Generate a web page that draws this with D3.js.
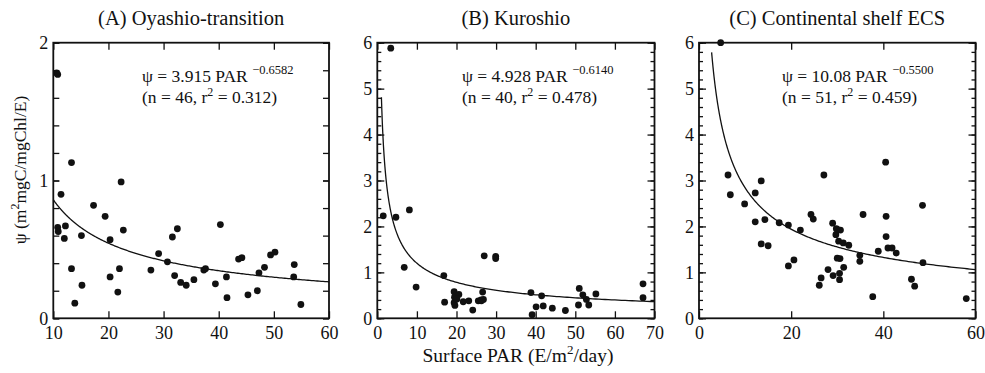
<!DOCTYPE html>
<html><head><meta charset="utf-8">
<script src="https://cdn.jsdelivr.net/npm/d3@7"></script>
<style>
html,body{margin:0;padding:0;background:#fff;}
</style></head>
<body><svg id="c" width="985" height="373"></svg>
<script>
// ---- data ----
const titles = ["(A) Oyashio-transition", "(B) Kuroshio", "(C) Continental shelf ECS"];
const eqCoef = ["3.915", "4.928", "10.08"];
const eqExpLabel = ["\u22120.6582", "\u22120.6140", "\u22120.5500"];
const eqStats = ["(n = 46, r\u00b2 = 0.312)", "(n = 40, r\u00b2 = 0.478)", "(n = 51, r\u00b2 = 0.459)"];
const fitA = [3.915, 4.928, 10.08];
const fitB = [-0.6582, -0.6140, -0.5500];
const fitStart = [10, 1.04, 2.74];
const xDomains = [[10, 60], [0, 70], [0, 60]];
const yDomains = [[0, 2], [0, 6], [0, 6]];
const xTickVals = [[10, 20, 30, 40, 50, 60], [0, 10, 20, 30, 40, 50, 60, 70], [0, 20, 40, 60]];
const yTickVals = [[0, 1, 2], [0, 1, 2, 3, 4, 5, 6], [0, 1, 2, 3, 4, 5, 6]];

const parA = [10.6, 10.8, 13.3, 22.3, 11.4, 10.8, 10.9, 12.2, 12.0, 13.3, 13.9, 15.1, 15.2, 17.3, 19.4, 20.3, 20.3, 21.7, 22.0, 22.7,
  27.7, 29.1, 30.7, 31.6, 32.5, 32.0, 33.1, 34.1, 35.5, 37.3, 37.6, 39.4, 40.3, 41.4, 41.5, 43.6, 44.2, 45.3, 47.0, 47.3, 48.3, 49.4, 50.2, 53.7, 53.6, 54.9];
const psiA = [1.78, 1.77, 1.13, 0.99, 0.90, 0.66, 0.63, 0.67, 0.58, 0.36, 0.11, 0.60, 0.24, 0.82, 0.74, 0.57, 0.30, 0.19, 0.36, 0.64,
  0.35, 0.47, 0.41, 0.59, 0.65, 0.31, 0.26, 0.24, 0.28, 0.35, 0.36, 0.25, 0.68, 0.30, 0.15, 0.43, 0.44, 0.17, 0.20, 0.33, 0.37, 0.46, 0.48, 0.39, 0.30, 0.10];

const parB = [1.5, 3.4, 4.7, 6.8, 8.1, 9.8, 16.8, 17.0, 19.4, 19.5, 19.4, 19.6, 20.6, 20.1, 21.7, 23.1, 24.1, 25.5, 26.2, 26.8,
  26.6, 27.0, 29.9, 29.9, 38.8, 39.1, 40.1, 41.5, 41.9, 44.2, 47.5, 50.8, 51.0, 51.9, 52.8, 53.4, 55.2, 67.1, 67.1, 26.3];
const psiB = [2.23, 5.88, 2.20, 1.11, 2.36, 0.68, 0.93, 0.35, 0.58, 0.46, 0.34, 0.28, 0.52, 0.42, 0.36, 0.38, 0.18, 0.38, 0.40, 0.41,
  0.57, 1.36, 1.35, 1.30, 0.56, 0.08, 0.25, 0.49, 0.27, 0.22, 0.17, 0.29, 0.65, 0.51, 0.41, 0.29, 0.53, 0.75, 0.45, 0.38];

const parC = [4.7, 6.3, 6.8, 9.9, 12.2, 12.2, 13.5, 13.5, 14.3, 15.0, 17.4, 19.4, 19.4, 20.6, 22.0, 24.3, 24.8, 26.1, 26.5, 27.1,
  28.0, 29.0, 29.1, 29.7, 30.1, 30.7, 30.3, 31.3, 32.5, 30.0, 30.6, 31.4, 30.5, 30.5, 34.9, 34.9, 35.6, 37.7, 38.9, 40.5,
  40.6, 40.6, 41.0, 41.9, 42.8, 46.1, 46.8, 48.5, 48.6, 58.0, 29.8];
const psiC = [6.0, 3.12, 2.69, 2.49, 2.73, 2.10, 2.99, 1.62, 2.15, 1.58, 2.08, 2.03, 1.14, 1.27, 1.92, 2.26, 2.16, 0.72, 0.88, 3.12,
  1.06, 2.07, 0.93, 1.82, 1.93, 1.92, 1.68, 1.64, 1.59, 1.31, 1.30, 1.11, 0.98, 0.84, 1.37, 1.24, 2.26, 0.47, 1.46, 3.40,
  2.22, 1.78, 1.53, 1.53, 1.42, 0.85, 0.70, 2.46, 1.21, 0.43, 1.95];

const xsAll = [parA, parB, parC];
const ysAll = [psiA, psiB, psiC];

// ---- layout ----
const FONT = "'Liberation Serif', 'Times New Roman', serif";
const INK = "#111";
const svg = d3.select("#c");
const boxes = [
  {x0: 53.3, x1: 329, y0: 42.7, y1: 318.3},
  {x0: 377.3, x1: 654.5, y0: 42.7, y1: 318.3},
  {x0: 699, x1: 975.5, y0: 42.7, y1: 318.3}
];
const eqX = [142, 462, 782];

boxes.forEach((b, i) => {
  const x = d3.scaleLinear().domain(xDomains[i]).range([b.x0, b.x1]);
  const y = d3.scaleLinear().domain(yDomains[i]).range([b.y1, b.y0]);
  const g = svg.append("g");
  const minorY = d3.range(yDomains[i][0], yDomains[i][1] + 1e-9, 0.2).map(v => +v.toFixed(2));
  const majLen = i === 0 ? 6 : 7, minLen = i === 0 ? 6 : 4;

  g.append("g").attr("transform", `translate(${b.x0},0)`)
    .call(d3.axisLeft(y).tickValues(minorY).tickSize(-minLen).tickFormat(""))
    .call(s => s.select(".domain").remove());
  g.append("g").attr("transform", `translate(${b.x1},0)`)
    .call(d3.axisRight(y).tickValues(minorY).tickSize(-minLen).tickFormat(""))
    .call(s => s.select(".domain").remove());
  g.append("g").attr("class", "yl").attr("transform", `translate(${b.x0},0)`)
    .call(d3.axisLeft(y).tickValues(yTickVals[i]).tickSize(-majLen).tickPadding(5).tickFormat(d3.format("d")))
    .call(s => s.select(".domain").remove());
  g.append("g").attr("transform", `translate(${b.x1},0)`)
    .call(d3.axisRight(y).tickValues(yTickVals[i]).tickSize(-majLen).tickFormat(""))
    .call(s => s.select(".domain").remove());
  g.append("g").attr("class", "xl").attr("transform", `translate(0,${b.y1})`)
    .call(d3.axisBottom(x).tickValues(xTickVals[i]).tickSize(-7).tickPadding(8).tickFormat(d3.format("d")))
    .call(s => s.select(".domain").remove());
  g.append("g").attr("transform", `translate(0,${b.y0})`)
    .call(d3.axisTop(x).tickValues(xTickVals[i]).tickSize(-7).tickFormat(""))
    .call(s => s.select(".domain").remove());
  g.selectAll(".tick line").attr("stroke", INK).attr("stroke-width", 1.3);
  g.selectAll(".tick text").attr("font-size", 18).attr("fill", INK);
  g.selectAll(".yl .tick text").attr("dy", "0.32em");

  g.append("rect").attr("x", b.x0).attr("y", b.y0).attr("width", b.x1 - b.x0).attr("height", b.y1 - b.y0)
    .attr("fill", "none").attr("stroke", INK).attr("stroke-width", 1.8);

  const xEnd = xDomains[i][1];
  const n = 300;
  const pts = d3.range(n + 1).map(k => {
    const xv = fitStart[i] * Math.pow(xEnd / fitStart[i], k / n);
    return [xv, fitA[i] * Math.pow(xv, fitB[i])];
  });
  g.append("path").attr("d", d3.line().x(d => x(d[0])).y(d => y(d[1]))(pts))
    .attr("fill", "none").attr("stroke", INK).attr("stroke-width", 1.3);

  g.selectAll("circle.pt").data(d3.range(xsAll[i].length)).join("circle")
    .attr("cx", k => x(xsAll[i][k])).attr("cy", k => y(ysAll[i][k])).attr("r", 3.4).attr("fill", INK);

  svg.append("text").attr("x", (b.x0 + b.x1) / 2).attr("y", 25).attr("text-anchor", "middle")
    .attr("font-size", 20.5).text(titles[i]);

  const t1 = svg.append("text").attr("x", eqX[i]).attr("y", 82).attr("font-size", 17.5);
  t1.append("tspan").text("\u03c8  = " + eqCoef[i] + " PAR ");
  t1.append("tspan").attr("font-size", 12.5).attr("dy", -8).text(eqExpLabel[i]);
  const t2 = svg.append("text").attr("x", eqX[i]).attr("y", 102.5).attr("font-size", 17.5);
  const parts = eqStats[i].split("r\u00b2");
  t2.append("tspan").text(parts[0] + "r");
  t2.append("tspan").attr("font-size", 12).attr("dy", -7).text("2");
  t2.append("tspan").attr("dy", 7).text(parts[1]);
});

const yl = svg.append("text").attr("transform", "translate(26,170) rotate(-90)").attr("text-anchor", "middle").attr("font-size", 17.5);
yl.append("tspan").text("\u03c8 (m");
yl.append("tspan").attr("font-size", 12).attr("dy", -7).text("2");
yl.append("tspan").attr("dy", 7).text("mgC/mgChl/E)");
const xl = svg.append("text").attr("x", 518).attr("y", 362).attr("text-anchor", "middle").attr("font-size", 19.5);
xl.append("tspan").text("Surface PAR (E/m");
xl.append("tspan").attr("font-size", 13).attr("dy", -8).text("2");
xl.append("tspan").attr("dy", 8).text("/day)");

svg.selectAll("text").style("font-family", FONT).style("fill", INK);
</script></body></html>
